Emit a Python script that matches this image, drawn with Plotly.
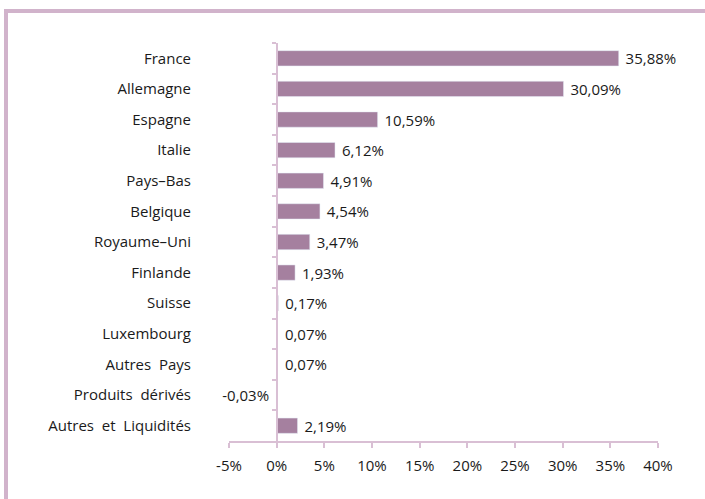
import plotly.graph_objects as go

categories = ["France", "Allemagne", "Espagne", "Italie", "Pays-Bas", "Belgique",
              "Royaume-Uni", "Finlande", "Suisse", "Luxembourg", "Autres  Pays",
              "Produits  dérivés", "Autres  et  Liquidités"]
values = [35.88, 30.09, 10.59, 6.12, 4.91, 4.54, 3.47, 1.93, 0.17, 0.07, 0.07, -0.03, 2.19]
tick_vals = [-5, 0, 5, 10, 15, 20, 25, 30, 35, 40]
tick_text = ["-5%", "0%", "5%", "10%", "15%", "20%", "25%", "30%", "35%", "40%"]

NBSP = "\u00a0"
labels = []
for v in values:
    s = ("%.2f" % v).replace(".", ",") + "%"
    labels.append(NBSP + s if v >= 0 else s + NBSP)
display_cats = [c.replace("-", "–") for c in categories]

BAR = "#A5809F"
AXIS = "#D9BFD4"
BORDER = "#D1B3CB"
TXT = "#1A1A1A"
FONT = "'Open Sans', sans-serif"
FS = 15

fig = go.Figure()
fig.add_trace(go.Bar(
    x=values, y=display_cats, orientation="h",
    marker=dict(color=BAR, line=dict(width=0)),
    text=labels, textposition="outside", cliponaxis=False, constraintext="none",
    textfont=dict(size=FS, color=TXT, family=FONT),
    hoverinfo="skip",
))
# invisible copy to carry the zero-position category axis (ticks at 0)
fig.add_trace(go.Bar(
    x=values, y=display_cats, orientation="h", yaxis="y2",
    marker=dict(color="rgba(0,0,0,0)"), hoverinfo="skip", showlegend=False,
))

lo, hi = -5, 40
fig.update_layout(
    width=705, height=499,
    margin=dict(l=229, r=47, t=43, b=58),
    paper_bgcolor="white", plot_bgcolor="white",
    showlegend=False, bargap=0.5,
    font=dict(family=FONT, size=FS, color=TXT),
    xaxis=dict(range=[lo, hi], tickvals=tick_vals, ticktext=tick_text,
               showgrid=False, zeroline=False, showline=True, linecolor=AXIS,
               linewidth=2, ticks="outside", ticklen=5, tickcolor=AXIS, tickwidth=2,
               ticklabelstandoff=5, tickfont=dict(size=FS, color=TXT)),
    yaxis=dict(type="category", categoryorder="array", categoryarray=display_cats,
               autorange="reversed", showgrid=False, zeroline=False, showline=False,
               ticks="", ticklabelstandoff=37, tickfont=dict(size=FS, color=TXT)),
    yaxis2=dict(type="category", categoryorder="array", categoryarray=display_cats,
                autorange="reversed", overlaying="y", anchor="free",
                position=(0 - lo) / (hi - lo), side="left",
                showgrid=False, zeroline=False, showline=True, linecolor=AXIS,
                linewidth=2, ticks="outside", ticklen=4, tickcolor=AXIS,
                tickwidth=2, tickson="boundaries", showticklabels=False),
    shapes=[
        dict(type="line", xref="paper", yref="paper",
             x0=(6 - 229) / 429, x1=(705 - 229) / 429 + 0.01,
             y0=1 + (43 - 11) / 398, y1=1 + (43 - 11) / 398,
             line=dict(color=BORDER, width=4)),
        dict(type="line", xref="paper", yref="paper",
             x0=(6 - 229) / 429, x1=(6 - 229) / 429,
             y0=1 + (43 - 9) / 398, y1=(441 - 500) / 398,
             line=dict(color=BORDER, width=4)),
    ],
)

fig.write_html("out.html", config={"displayModeBar": False},
               post_script="document.body.style.margin='0';")
